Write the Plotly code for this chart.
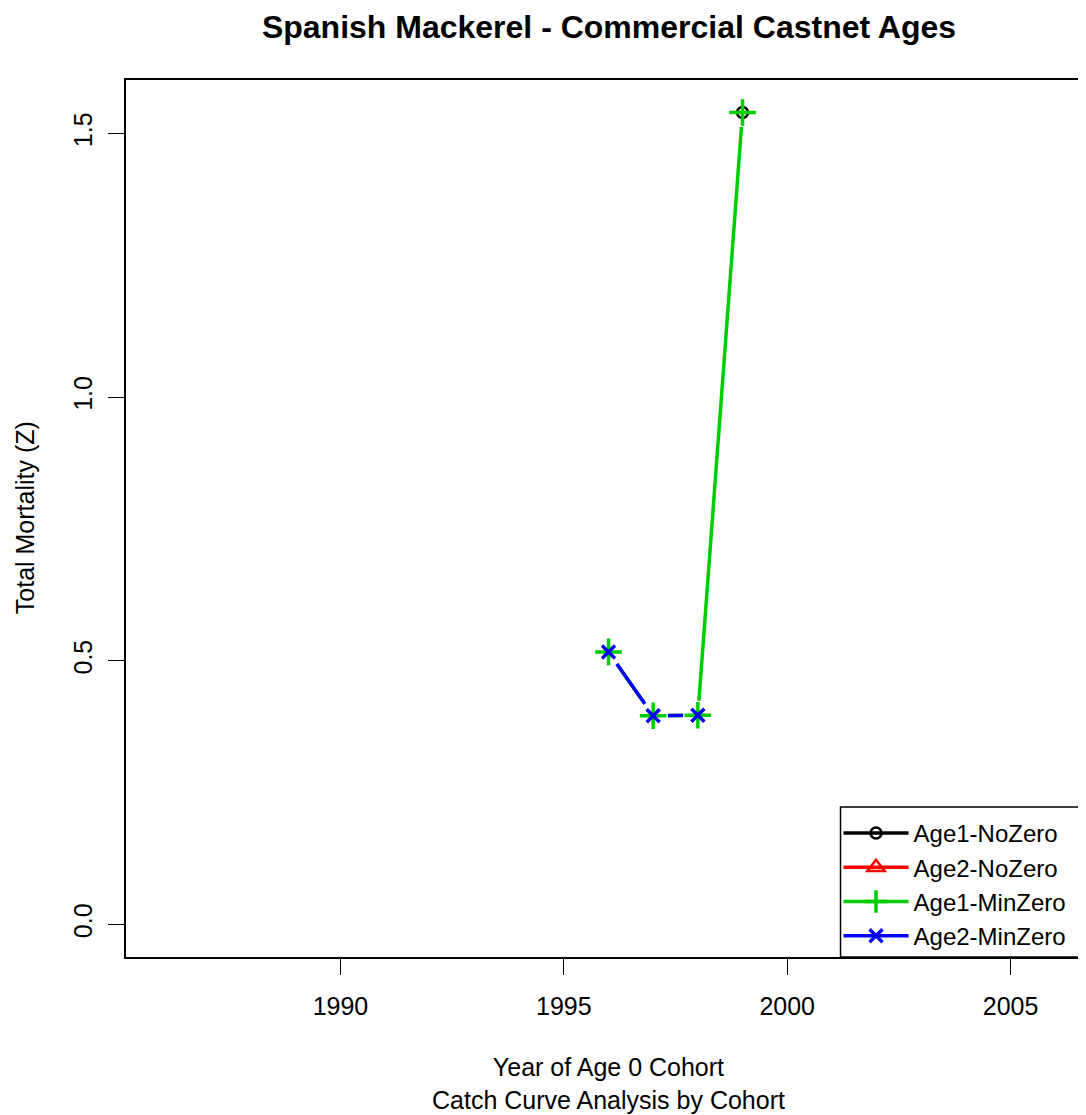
import plotly.graph_objects as go

# ---- data ----
years = [1996, 1997, 1998, 1999]
age1_nozero = [None, None, None, 1.54]
age2_nozero = [None, None, None, None]
age1_minzero = [0.517, 0.396, 0.397, 1.54]
age2_minzero = [0.517, 0.396, 0.397, None]

x_ticks = [1990, 1995, 2000, 2005]
y_ticks = [0.0, 0.5, 1.0, 1.5]
y_ticktext = ["0.0", "0.5", "1.0", "1.5"]

series_names = ["Age1-NoZero", "Age2-NoZero", "Age1-MinZero", "Age2-MinZero"]
series_values = [age1_nozero, age2_nozero, age1_minzero, age2_minzero]
colors = ["#000000", "#FF0000", "#00CD00", "#0000FF"]
symbols = ["circle-open", "triangle-up-open", "cross-thin-open", "x-thin-open"]
msizes = [11, 15, 19, 13]
mwidths = [2.5, 2.5, 3.5, 3.5]

FONT = "Liberation Sans, Arial, sans-serif"
OFF = 8  # page body margin: the figure is drawn 8px right/down of the window corner
W, H = 1086, 1115 - OFF
# plot box in reference-window pixels: left 126, top 80, bottom 957, right 1093 (off-screen)
ML = 126 - OFF
MT = 80 - OFF
MB = H - (957 - OFF)
MR = W - (1093 - OFF)
PW = W - ML - MR
PH = H - MT - MB


def px_x(p):  # reference-window x pixel -> paper fraction
    return (p - OFF - ML) / PW


def px_y(p):  # reference-window y pixel -> paper fraction
    return (H - MB - (p - OFF)) / PH


fig = go.Figure()

# series lines (with legend entries)
for name, vals, c, s, ms, mw in zip(series_names, series_values, colors, symbols, msizes, mwidths):
    fig.add_trace(go.Scatter(
        x=years, y=vals, name=name, mode="lines+markers",
        line=dict(color=c, width=3.5),
        marker=dict(symbol=s, size=ms, color=c, line=dict(color=c, width=mw)),
        connectgaps=False,
    ))

# white discs to give R's type="b" gaps around points
for vals in series_values:
    fig.add_trace(go.Scatter(
        x=years, y=vals, mode="markers", showlegend=False, hoverinfo="skip",
        marker=dict(symbol="circle", size=29, color="white", line=dict(width=0)),
    ))

# symbols on top
for name, vals, c, s, ms, mw in zip(series_names, series_values, colors, symbols, msizes, mwidths):
    fig.add_trace(go.Scatter(
        x=years, y=vals, mode="markers", showlegend=False, hoverinfo="skip",
        marker=dict(symbol=s, size=ms, color=c, line=dict(color=c, width=mw)),
    ))

fig.update_layout(
    width=W, height=H, autosize=False,
    margin=dict(l=ML, r=MR, t=MT, b=MB, pad=0),
    paper_bgcolor="white", plot_bgcolor="white",
    font=dict(family=FONT, size=25, color="black"),
    title=dict(text="<b>Spanish Mackerel - Commercial Castnet Ages</b>",
               font=dict(family=FONT, size=32, color="black"),
               x=(609 - OFF) / W, xref="container", xanchor="center",
               y=1 - (27 - OFF) / H, yref="container", yanchor="middle"),
    xaxis=dict(range=[1985.2, 2006.8], tickvals=x_ticks, ticks="outside",
               ticklen=16, tickwidth=1.3, tickcolor="black",
               ticklabelstandoff=10,
               showline=True, linecolor="black", linewidth=1.5, mirror=True,
               showgrid=False, zeroline=False,
               tickfont=dict(family=FONT, size=25, color="black")),
    yaxis=dict(range=[-0.0616, 1.6016], tickvals=y_ticks, ticktext=y_ticktext,
               ticks="outside", ticklen=16, tickwidth=1.3, tickcolor="black",
               tickangle=-90, ticklabelstandoff=6,
               showline=True, linecolor="black", linewidth=1.5, mirror=True,
               showgrid=False, zeroline=False,
               tickfont=dict(family=FONT, size=25, color="black")),
    legend=dict(x=px_x(840), xanchor="left", y=px_y(811), yanchor="top",
                xref="paper", yref="paper",
                bgcolor="rgba(0,0,0,0)", borderwidth=0,
                itemwidth=65, itemsizing="trace",
                font=dict(family=FONT, size=24, color="black")),
    showlegend=True,
)

# legend frame (its right edge lies outside the window, as in the reference)
fig.add_shape(type="rect", xref="paper", yref="paper",
              x0=px_x(842), x1=1.2, y0=0, y1=px_y(807),
              line=dict(color="black", width=1.5), fillcolor="rgba(0,0,0,0)")

# axis titles
fig.add_annotation(text="Year of Age 0 Cohort<br>Catch Curve Analysis by Cohort",
                   xref="paper", yref="paper", x=px_x(609), y=px_y(1083),
                   xanchor="center", yanchor="middle", showarrow=False,
                   font=dict(family=FONT, size=25, color="black"))
fig.add_annotation(text="Total Mortality (Z)", textangle=-90,
                   xref="paper", yref="paper", x=px_x(25), y=px_y(518),
                   xanchor="center", yanchor="middle", showarrow=False,
                   font=dict(family=FONT, size=25, color="black"))

fig.write_html("out.html")
